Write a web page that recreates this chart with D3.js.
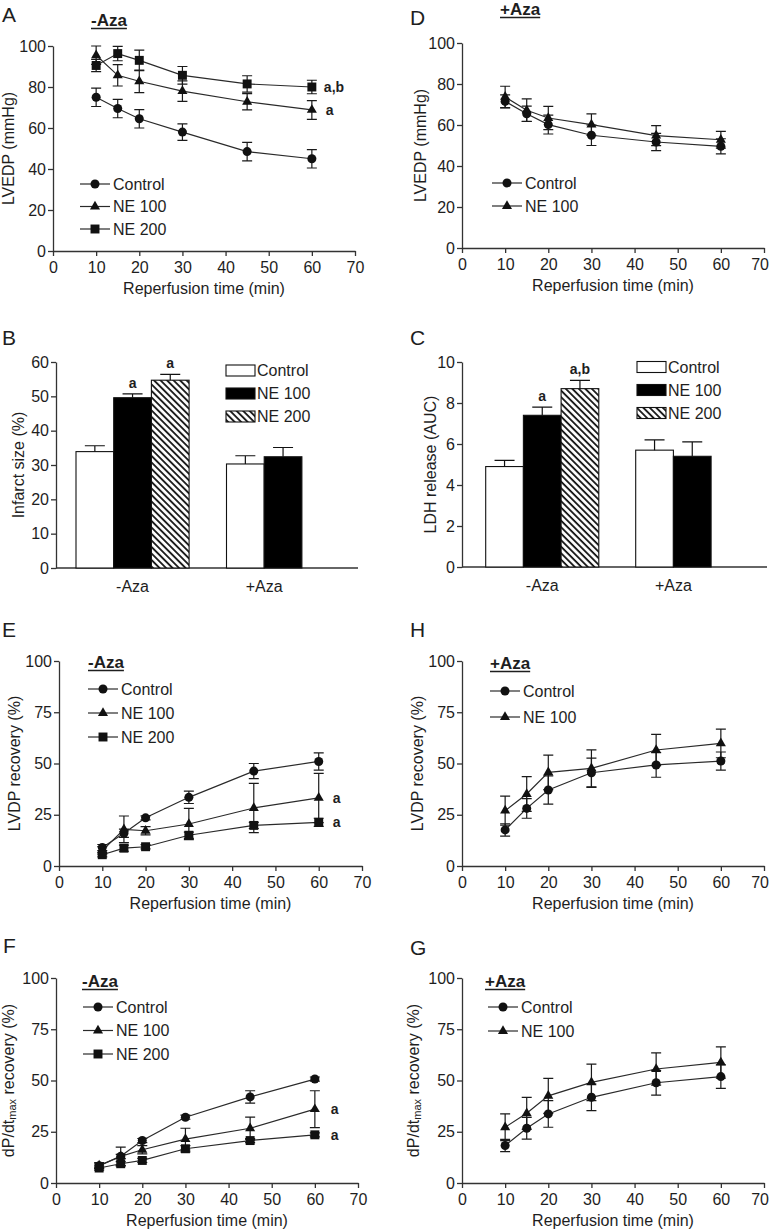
<!DOCTYPE html>
<html><head><meta charset="utf-8">
<script src="https://cdn.jsdelivr.net/npm/d3@7"></script>
<style>
body{margin:0;background:#fff}
svg{display:block}
text{font-family:"Liberation Sans",Arial,Helvetica,sans-serif;fill:#1e1e1e}
</style>
</head><body>
<svg id="fig" width="771" height="1230"></svg>
<script>
// ---------------- DATA ----------------
const times = [10, 15, 20, 30, 45, 60];
const xTicks = [0, 10, 20, 30, 40, 50, 60, 70];
const ticksLVEDP = [0, 20, 40, 60, 80, 100];
const ticksRecovery = [0, 25, 50, 75, 100];
const ticksInfarct = [0, 10, 20, 30, 40, 50, 60];
const ticksLDH = [0, 2, 4, 6, 8, 10];
const seriesNames = ["Control", "NE 100", "NE 200"];

// Panel A: LVEDP, -Aza
const aControl = [75, 69.5, 64.5, 58, 48.5, 45];
const aControlErr = [4.5, 4.5, 4.5, 4, 4.5, 4.5];
const aNE100 = [95.5, 85.7, 82.8, 78, 72.8, 68.8];
const aNE100Err = [4.5, 5.2, 5.5, 5, 4, 4.6];
const aNE200 = [90.5, 96.3, 93, 85.7, 81.5, 80];
const aNE200Err = [3, 3.5, 5, 4.3, 4, 3.3];

// Panel D: LVEDP, +Aza
const dControl = [71.5, 65.5, 60.2, 55, 51.7, 49.6];
const dControlErr = [3.2, 3.7, 4.6, 5, 4.2, 3.7];
const dNE100 = [73.7, 67.2, 63.4, 60.2, 54.8, 52.8];
const dNE100Err = [5.2, 5.5, 5.7, 5.2, 4.9, 4.1];

// Panel B: infarct size
const barGroups = ["-Aza", "+Aza"];
const infarctControl = [33.9, 30.3];
const infarctControlErr = [1.7, 2.4];
const infarctNE100 = [49.6, 32.4];
const infarctNE100Err = [1.1, 2.7];
const infarctNE200 = [54.7];
const infarctNE200Err = [1.7];

// Panel C: LDH release
const ldhControl = [4.9, 5.7];
const ldhControlErr = [0.3, 0.5];
const ldhNE100 = [7.4, 5.4];
const ldhNE100Err = [0.4, 0.7];
const ldhNE200 = [8.7];
const ldhNE200Err = [0.4];

// Panel E: LVDP recovery, -Aza
const eControl = [9, 16, 23.5, 33.5, 46.3, 51];
const eControlErr = [1.5, 2, 1, 3, 3.7, 4.2];
const eNE100 = [7.5, 17.9, 17.2, 20.5, 28.3, 33.2];
const eNE100Err = [2, 6.5, 2, 7.6, 12, 12];
const eNE200 = [5.5, 8.7, 9.4, 15, 19.8, 21.3];
const eNE200Err = [1, 1.5, 1, 1.5, 1.5, 2];

// Panel H: LVDP recovery, +Aza
const hControl = [17.6, 28.1, 37.1, 45.5, 49.3, 51.2];
const hControlErr = [3, 4.8, 6.9, 7.1, 6, 4.4];
const hNE100 = [27, 35.1, 45.7, 47.6, 56.6, 59.8];
const hNE100Err = [7.1, 8.5, 8.4, 9, 7.6, 7];

// Panel F: dP/dtmax recovery, -Aza
const fControl = [8.4, 13, 20.7, 32.1, 42, 50.7];
const fControlErr = [1, 1, 1, 1, 3, 1];
const fNE100 = [8.5, 13, 16.2, 21.4, 26.7, 36];
const fNE100Err = [1.5, 4.5, 2, 5.3, 5.4, 9];
const fNE200 = [7.3, 9.4, 11, 16.7, 20.7, 23.5];
const fNE200Err = [1, 1, 1, 1.5, 1, 1];

// Panel G: dP/dtmax recovery, +Aza
const gControl = [18.3, 26.7, 33.7, 41.8, 48.9, 51.9];
const gControlErr = [3, 5.3, 6.5, 6.5, 6, 5.7];
const gNE100 = [27.2, 34, 42.5, 49.1, 55.6, 58.8];
const gNE100Err = [6.5, 7.8, 8.5, 8.9, 7.9, 7.6];

// ---------------- DRAWING ----------------
const svg = d3.select("#fig");
const INK = "#1e1e1e";
const AX = "#333";
const symbols = {circle: [d3.symbolCircle, 64], triangle: [d3.symbolTriangle, 44], square: [d3.symbolSquare, 80]};

const defs = svg.append("defs");
const pat = defs.append("pattern").attr("id", "hatch").attr("patternUnits", "userSpaceOnUse")
  .attr("width", 4.6).attr("height", 4.6).attr("patternTransform", "rotate(-45)");
pat.append("rect").attr("width", 4.6).attr("height", 4.6).attr("fill", "#fff");
pat.append("line").attr("x1", 1).attr("x2", 1).attr("y1", 0).attr("y2", 4.6)
  .attr("stroke", "#111").attr("stroke-width", 1.8);

function styleAxis(g) {
  g.selectAll(".domain").attr("stroke", AX).attr("stroke-width", 1.3);
  g.selectAll(".tick line").attr("stroke", AX).attr("stroke-width", 1.3);
  g.selectAll(".tick text").attr("font-size", 16).attr("fill", INK)
    .attr("font-family", '"Liberation Sans",Arial,sans-serif');
}

function letter(t, x, y) {
  svg.append("text").attr("x", x).attr("y", y).attr("font-size", 21).text(t);
}

function tag(t, x, y) {
  const tx = svg.append("text").attr("x", x).attr("y", y).attr("font-size", 17)
    .attr("font-weight", "bold").text(t);
  const w = tx.node().getComputedTextLength();
  svg.append("line").attr("x1", x).attr("x2", x + w).attr("y1", y + 2.5).attr("y2", y + 2.5)
    .attr("stroke", INK).attr("stroke-width", 1.3);
}

function yLabel(cx, cy, parts) {
  const t = svg.append("text").attr("transform", `translate(${cx},${cy}) rotate(-90)`)
    .attr("text-anchor", "middle").attr("dominant-baseline", "central").attr("font-size", 16);
  parts.forEach(p => {
    const s = t.append("tspan").text(p.t);
    if (p.sub) s.attr("font-size", 11).attr("dy", 4);
    if (p.after) s.attr("dy", -4);
  });
}

function linePanel(cfg) {
  const x = d3.scaleLinear().domain([0, 70]).range([cfg.x0, cfg.x1]);
  const y = d3.scaleLinear().domain([0, cfg.yMax]).range([cfg.yb, cfg.yt]);
  const g = svg.append("g");
  const xa = g.append("g").attr("transform", `translate(0,${cfg.yb})`)
    .call(d3.axisBottom(x).tickValues(xTicks).tickSize(5).tickSizeOuter(0).tickPadding(6))
    .call(styleAxis);
  if (cfg.x1 > 760) {
    xa.selectAll(".tick text").filter(d => d === 70).attr("text-anchor", "end").attr("dx", 4.5);
  }
  g.append("g").attr("transform", `translate(${cfg.x0},0)`)
    .call(d3.axisLeft(y).tickValues(cfg.yTicks).tickSize(5).tickSizeOuter(0).tickPadding(2))
    .call(styleAxis);
  svg.append("text").attr("x", (cfg.x0 + cfg.x1) / 2).attr("y", cfg.yb + 43)
    .attr("text-anchor", "middle").attr("font-size", 16).text("Reperfusion time (min)");
  yLabel(cfg.ylx, (cfg.yb + cfg.yt) / 2, cfg.ylabel);

  const line = d3.line().x((d, i) => x(times[i])).y(d => y(d));
  cfg.series.forEach(s => {
    g.append("path").attr("d", line(s.vals)).attr("fill", "none")
      .attr("stroke", "#2a2a2a").attr("stroke-width", 1.2);
  });
  cfg.series.forEach(s => {
    s.vals.forEach((v, i) => {
      const cx = x(times[i]), lo = y(v - s.errs[i]), hi = y(v + s.errs[i]);
      const p = d3.path();
      p.moveTo(cx, lo); p.lineTo(cx, hi);
      p.moveTo(cx - 5, lo); p.lineTo(cx + 5, lo);
      p.moveTo(cx - 5, hi); p.lineTo(cx + 5, hi);
      g.append("path").attr("d", p.toString()).attr("stroke", "#1a1a1a").attr("stroke-width", 1.2).attr("fill", "none");
    });
  });
  cfg.series.forEach(s => {
    const [sym, size] = symbols[s.sym];
    g.selectAll(null).data(s.vals).join("path")
      .attr("d", d3.symbol(sym, size))
      .attr("transform", (d, i) => `translate(${x(times[i])},${y(d)})`)
      .attr("fill", "#111");
  });
  // legend
  cfg.series.forEach((s, i) => {
    const ly = cfg.leg.y + i * cfg.leg.dy;
    g.append("line").attr("x1", cfg.leg.x).attr("x2", cfg.leg.x + 30).attr("y1", ly).attr("y2", ly)
      .attr("stroke", "#2a2a2a").attr("stroke-width", 1.2);
    const [sym, size] = symbols[s.sym];
    g.append("path").attr("d", d3.symbol(sym, size)).attr("transform", `translate(${cfg.leg.x + 15},${ly})`).attr("fill", "#111");
    g.append("text").attr("x", cfg.leg.x + 33).attr("y", ly).attr("dominant-baseline", "central")
      .attr("font-size", 16).text(s.name);
  });
  // significance notes
  (cfg.notes || []).forEach(n => {
    const s = cfg.series[n.s];
    svg.append("text").attr("x", x(60) + n.dx).attr("y", y(s.vals[5]) + 5)
      .attr("font-size", 14).attr("font-weight", "bold").text(n.t);
  });
}

function barPanel(cfg) {
  const y = d3.scaleLinear().domain([0, cfg.yMax]).range([cfg.yb, cfg.yt]);
  const gx = d3.scaleBand().domain(barGroups).range([cfg.gStart, cfg.gStart + 2 * cfg.step]);
  const bx = d3.scaleBand().domain(seriesNames).range([0, 3 * cfg.bw]);
  const g = svg.append("g");
  g.append("line").attr("x1", cfg.x0).attr("x2", cfg.x1).attr("y1", cfg.yb).attr("y2", cfg.yb)
    .attr("stroke", AX).attr("stroke-width", 1.3);
  g.append("g").attr("transform", `translate(${cfg.x0},0)`)
    .call(d3.axisLeft(y).tickValues(cfg.yTicks).tickSize(5).tickSizeOuter(0).tickPadding(2))
    .call(styleAxis);
  yLabel(cfg.ylx, (cfg.yb + cfg.yt) / 2, cfg.ylabel);
  const fills = ["#fff", "#000", "url(#hatch)"];
  cfg.series.forEach((s, si) => {
    s.vals.forEach((v, gi) => {
      const bxx = gx(barGroups[gi]) + bx(seriesNames[si]);
      g.append("rect").attr("x", bxx).attr("y", y(v)).attr("width", bx.bandwidth())
        .attr("height", cfg.yb - y(v)).attr("fill", fills[si]).attr("stroke", "#111").attr("stroke-width", 1.1);
      const cx = bxx + bx.bandwidth() / 2, hi = y(v + s.errs[gi]);
      g.append("path").attr("d", `M${cx},${y(v)}V${hi}M${cx - 10},${hi}H${cx + 10}`)
        .attr("stroke", "#111").attr("stroke-width", 1.2).attr("fill", "none");
      if (s.notes && s.notes[gi]) {
        g.append("text").attr("x", cx).attr("y", hi - 6).attr("text-anchor", "middle")
          .attr("font-size", 14).attr("font-weight", "bold").text(s.notes[gi]);
      }
    });
  });
  // group labels centred on the bars present
  barGroups.forEach((grp, gi) => {
    const n = cfg.series.filter(s => s.vals.length > gi).length;
    svg.append("text").attr("x", gx(grp) + n * bx.bandwidth() / 2).attr("y", cfg.yb + 24)
      .attr("text-anchor", "middle").attr("font-size", 16).text(grp);
  });
  // legend
  cfg.series.forEach((s, si) => {
    const ly = cfg.leg.y + si * cfg.leg.dy;
    g.append("rect").attr("x", cfg.leg.x).attr("y", ly - 5.5).attr("width", 29).attr("height", 11)
      .attr("fill", fills[si]).attr("stroke", "#111").attr("stroke-width", 1.1);
    g.append("text").attr("x", cfg.leg.x + 31).attr("y", ly).attr("dominant-baseline", "central")
      .attr("font-size", 16).text(seriesNames[si]);
  });
}

const lvedpLab = [{t: "LVEDP (mmHg)"}];
const lvdpLab = [{t: "LVDP recovery (%)"}];
const dpLab = [{t: "dP/dt"}, {t: "max", sub: true}, {t: " recovery (%)", after: true}];

// A
letter("A", 2, 22); tag("-Aza", 91, 26);
linePanel({x0: 53, x1: 355, yb: 251, yt: 46, yMax: 100, yTicks: ticksLVEDP, ylx: 8, ylabel: lvedpLab,
  series: [
    {name: "Control", vals: aControl, errs: aControlErr, sym: "circle"},
    {name: "NE 100", vals: aNE100, errs: aNE100Err, sym: "triangle"},
    {name: "NE 200", vals: aNE200, errs: aNE200Err, sym: "square"}],
  leg: {x: 80, y: 184, dy: 22.5},
  notes: [{s: 2, t: "a,b", dx: 12}, {s: 1, t: "a", dx: 14}]});

// D
letter("D", 410, 25); tag("+Aza", 500, 15);
linePanel({x0: 462, x1: 764, yb: 248, yt: 43, yMax: 100, yTicks: ticksLVEDP, ylx: 420, ylabel: lvedpLab,
  series: [
    {name: "Control", vals: dControl, errs: dControlErr, sym: "circle"},
    {name: "NE 100", vals: dNE100, errs: dNE100Err, sym: "triangle"}],
  leg: {x: 492, y: 183, dy: 23}});

// B
letter("B", 2, 345);
barPanel({x0: 56, x1: 358, yb: 568, yt: 362, yMax: 60, yTicks: ticksInfarct, ylx: 18,
  ylabel: [{t: "Infarct size (%)"}], gStart: 76, step: 150.5, bw: 37.7,
  series: [
    {vals: infarctControl, errs: infarctControlErr},
    {vals: infarctNE100, errs: infarctNE100Err, notes: ["a"]},
    {vals: infarctNE200, errs: infarctNE200Err, notes: ["a"]}],
  leg: {x: 226, y: 370.5, dy: 23}});

// C
letter("C", 410, 345);
barPanel({x0: 462, x1: 767, yb: 567, yt: 362, yMax: 10, yTicks: ticksLDH, ylx: 430,
  ylabel: [{t: "LDH release (AUC)"}], gStart: 485.7, step: 150, bw: 37.7,
  series: [
    {vals: ldhControl, errs: ldhControlErr},
    {vals: ldhNE100, errs: ldhNE100Err, notes: ["a"]},
    {vals: ldhNE200, errs: ldhNE200Err, notes: ["a,b"]}],
  leg: {x: 637, y: 367, dy: 23}});

// E
letter("E", 2, 637); tag("-Aza", 88, 668);
linePanel({x0: 59, x1: 362, yb: 866, yt: 661, yMax: 100, yTicks: ticksRecovery, ylx: 14, ylabel: lvdpLab,
  series: [
    {name: "Control", vals: eControl, errs: eControlErr, sym: "circle"},
    {name: "NE 100", vals: eNE100, errs: eNE100Err, sym: "triangle"},
    {name: "NE 200", vals: eNE200, errs: eNE200Err, sym: "square"}],
  leg: {x: 88, y: 689, dy: 24},
  notes: [{s: 1, t: "a", dx: 14}, {s: 2, t: "a", dx: 14}]});

// H
letter("H", 410, 637); tag("+Aza", 490, 669);
linePanel({x0: 462, x1: 764, yb: 866, yt: 661, yMax: 100, yTicks: ticksRecovery, ylx: 417, ylabel: lvdpLab,
  series: [
    {name: "Control", vals: hControl, errs: hControlErr, sym: "circle"},
    {name: "NE 100", vals: hNE100, errs: hNE100Err, sym: "triangle"}],
  leg: {x: 490, y: 691, dy: 26}});

// F
letter("F", 3, 953); tag("-Aza", 82, 987);
linePanel({x0: 56, x1: 358, yb: 1183, yt: 978, yMax: 100, yTicks: ticksRecovery, ylx: 8, ylabel: dpLab,
  series: [
    {name: "Control", vals: fControl, errs: fControlErr, sym: "circle"},
    {name: "NE 100", vals: fNE100, errs: fNE100Err, sym: "triangle"},
    {name: "NE 200", vals: fNE200, errs: fNE200Err, sym: "square"}],
  leg: {x: 83, y: 1007, dy: 23.5},
  notes: [{s: 1, t: "a", dx: 16}, {s: 2, t: "a", dx: 16}]});

// G
letter("G", 410, 955); tag("+Aza", 485, 987);
linePanel({x0: 462, x1: 764, yb: 1183, yt: 978, yMax: 100, yTicks: ticksRecovery, ylx: 413, ylabel: dpLab,
  series: [
    {name: "Control", vals: gControl, errs: gControlErr, sym: "circle"},
    {name: "NE 100", vals: gNE100, errs: gNE100Err, sym: "triangle"}],
  leg: {x: 488, y: 1007, dy: 24}});
</script>
</body></html>
